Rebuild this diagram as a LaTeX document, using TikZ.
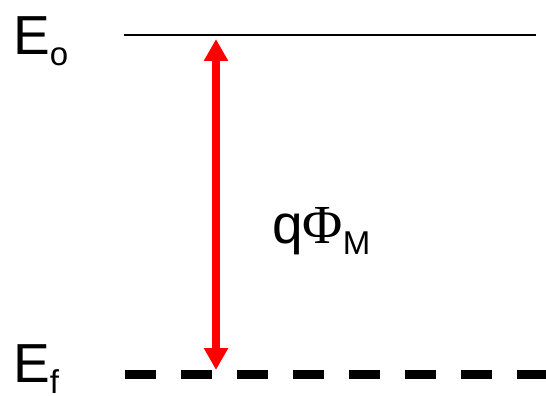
\documentclass[tikz,border=0pt]{standalone}
\usepackage{fontspec}
\setmainfont{Liberation Sans}
\newfontfamily\greekfont{Liberation Serif}
\usepackage{xcolor}
\usetikzlibrary{arrows.meta,positioning}
\tikzset{
  levellabel/.style={inner sep=0pt, anchor=base west, font=\fontsize{55}{55}\selectfont},
  vacline/.style={line width=1.6pt},
  fermiline/.style={line width=9pt, dash pattern=on 31pt off 25pt},
  gaparrow/.style={red, line width=8.5pt,
                   {Triangle[length=22pt,width=23pt]}-{Triangle[length=22pt,width=23pt]}}
}
\newcommand{\subtxt}[2]{\raisebox{#1}{\fontsize{33}{33}\selectfont #2}}

\begin{document}
\begin{tikzpicture}[x=1pt,y=-1pt]
    \useasboundingbox (0,0) rectangle (546,396);
    \def\xL{124} \def\xR{546} \def\xA{216}
    \def\yO{35} \def\yF{374.5}

    % energy levels
    \coordinate (oL) at (\xL,\yO);
    \coordinate (oR) at (536,\yO);
    \coordinate (fL) at (\xL+1,\yF);
    \coordinate (fR) at (\xR+2,\yF);
    \draw[vacline] (oL) -- (oR);
    \draw[fermiline] (fL) -- (fR);

    % labels
    \node[levellabel] (Eo) at (13,55) {E\subtxt{-11pt}{o}};
    \node[levellabel] (Ef) at (13,382) {E\subtxt{-11pt}{f}};

    % work function
    \coordinate (aTop) at (\xA,39);
    \coordinate (aBot) at (\xA,370);
    \draw[gaparrow] (aBot) -- (aTop);
    \node[levellabel] (phi) at (272,243)
      {q{\greekfont Φ}\subtxt{-11pt}{M}};
\end{tikzpicture}
\end{document}
